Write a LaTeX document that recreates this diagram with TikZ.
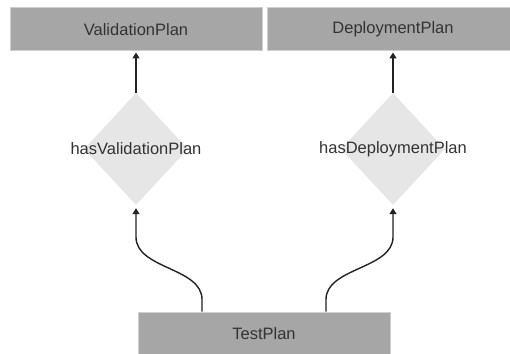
\documentclass[tikz,border=0pt]{standalone}
\usepackage{fontspec}
\setmainfont{Liberation Sans}
\usetikzlibrary{shapes.geometric,arrows.meta}

\definecolor{boxgray}{HTML}{A6A6A6}
\definecolor{boxline}{HTML}{CFCFCF}
\definecolor{relgray}{HTML}{E6E6E6}
\definecolor{textgray}{HTML}{333333}
\definecolor{linkgray}{HTML}{222222}

\begin{document}
\begin{tikzpicture}[x=1pt, y=1pt,
  font=\fontsize{16.5}{19}\selectfont, text=textgray,
  box/.style={rectangle, fill=boxgray, draw=boxline, line width=1pt,
    minimum width=252pt, minimum height=43pt, inner sep=0pt},
  rel/.style={diamond, fill=relgray, minimum width=104pt,
    minimum height=112pt, inner sep=0pt},
  link/.style={draw=linkgray, line width=1.4pt,
    -{Triangle[width=7pt,length=6pt]}}]

\useasboundingbox (0,0) rectangle (510,353);

\node [box] (validation) at (136,323.5) {ValidationPlan};
\node [box] (deployment) at (393,323.5) {DeploymentPlan};
\node [box] (test) at (264,19.5) {TestPlan};

\node [rel, label=center:hasValidationPlan] (hasvalidation) at (136,204) {};
\node [rel, label=center:hasDeploymentPlan] (hasdeployment) at (393,204) {};

\draw [link] (hasvalidation.north) -- ([yshift=-1pt]validation.south);
\draw [link] (hasdeployment.north) -- ([yshift=-1pt]deployment.south);

\draw [link] ([xshift=-62pt]test.north) -- ++(0,12)
  .. controls ++(0,32) and (136,84) .. (136,116) -- ([yshift=-3pt]hasvalidation.south);
\draw [link] ([xshift=62pt]test.north) -- ++(0,12)
  .. controls ++(0,32) and (393,84) .. (393,116) -- ([yshift=-3pt]hasdeployment.south);

\end{tikzpicture}
\end{document}
